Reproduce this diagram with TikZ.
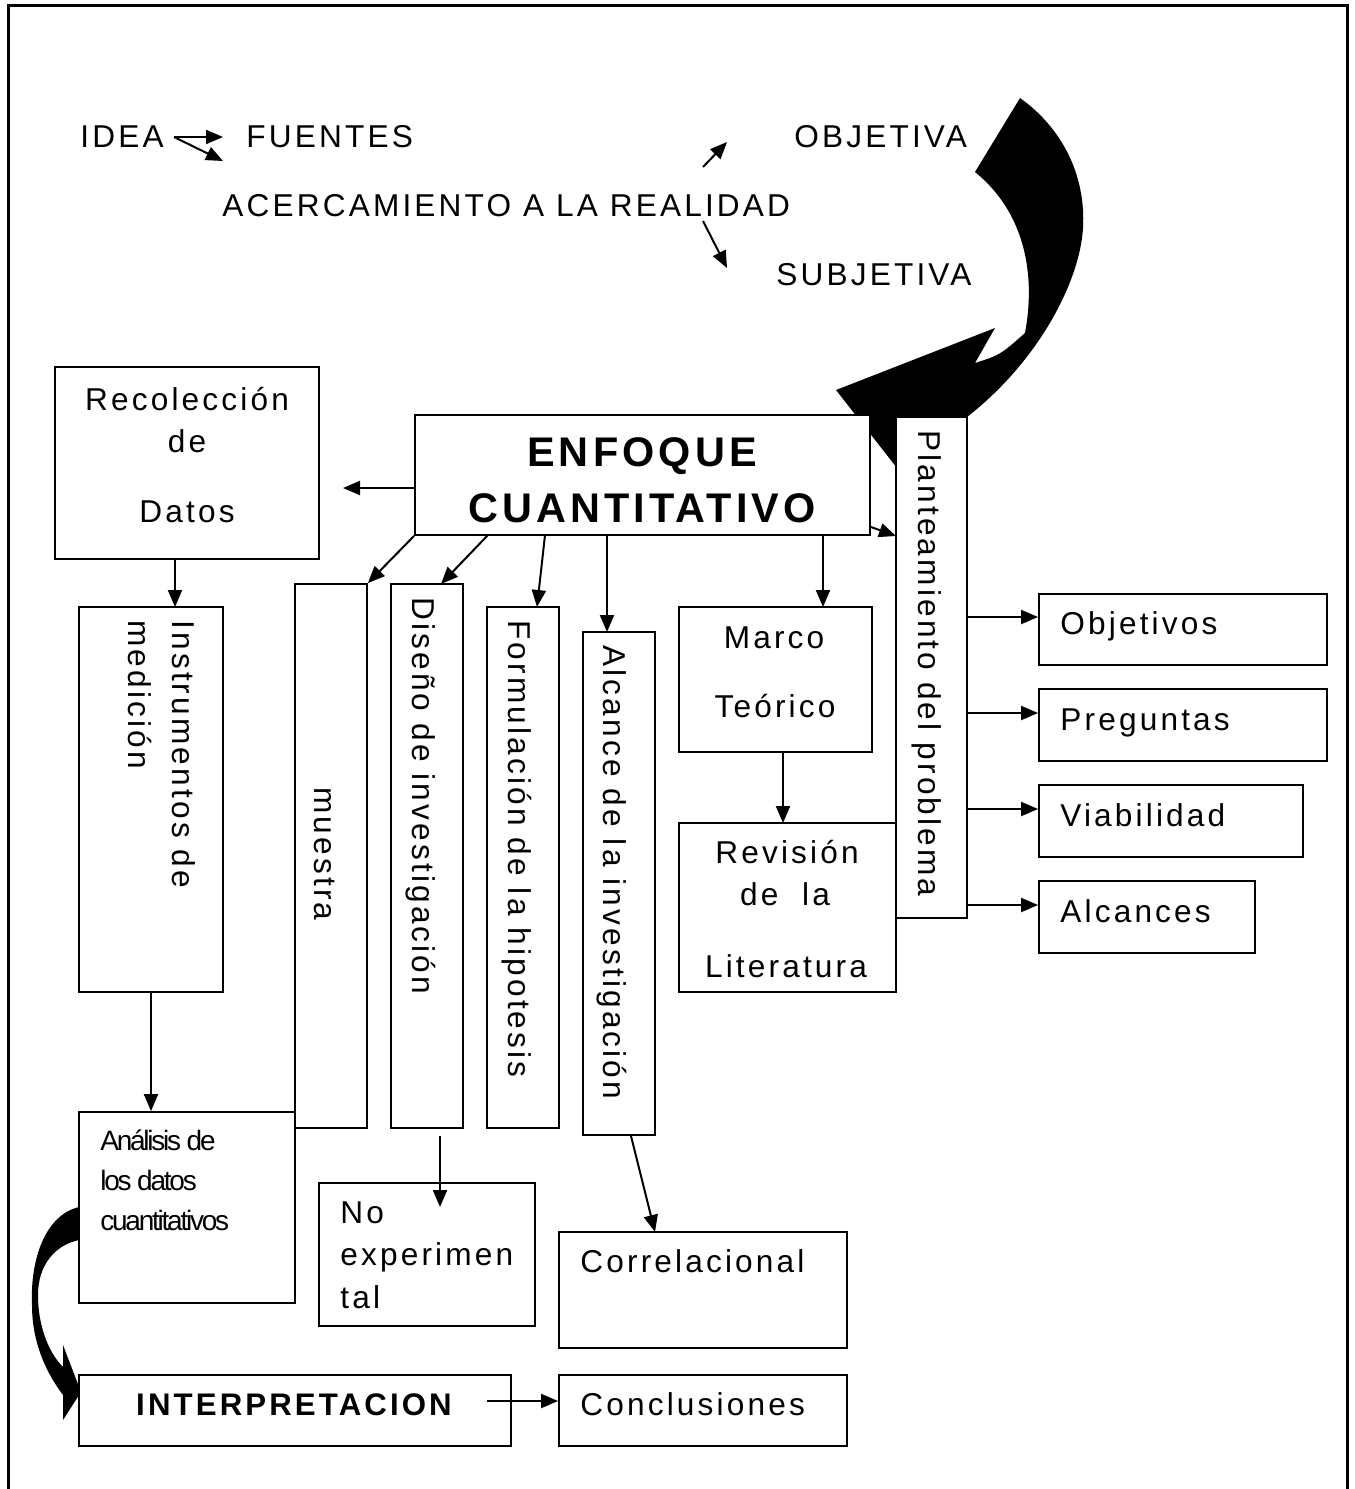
\documentclass[tikz,border=0pt]{standalone}
\usepackage{fontspec}
\setmainfont{Liberation Sans}
\newfontfamily\spf[LetterSpace=10]{Liberation Sans}
\newfontfamily\cnf[LetterSpace=-8]{Liberation Sans}
\usetikzlibrary{arrows.meta,fit,calc}
\begin{document}
\begin{tikzpicture}[x=0.5pt,y=-0.5pt,
  box/.style={draw, line width=0.9pt, fill=white, inner sep=0pt},
  lbl/.style={inner sep=0pt, font=\spf\fontsize{15.8}{19}\selectfont},
  lblb/.style={inner sep=0pt, font=\spf\bfseries\fontsize{15.6}{19}\selectfont},
  lblbig/.style={inner sep=0pt, font=\spf\bfseries\fontsize{20.7}{25}\selectfont},
  lblc/.style={inner sep=0pt, font=\cnf\fontsize{14}{16.8}\selectfont},
  arr/.style={-{Triangle[length=8.5pt,width=7pt]}, line width=1pt},
  vert/.style={rotate=-90, anchor=base west}
]
\useasboundingbox (0,0) rectangle (1355,1489);
% frame
\draw[line width=1.5pt] (8,1500) -- (8,5) -- (1347,5) -- (1347,1500);

% big curved arrow (behind boxes)
\fill[black] (1020,98) .. controls (1062,128) and (1086,175) .. (1083,228)
  .. controls (1080,280) and (1040,360) .. (967,417) -- (930,445) -- (897,468)
  -- (836,390) -- (995,328) -- (975,363) .. controls (1000,355) .. (1025,333)
  .. controls (1035,280) and (1028,215) .. (975,172) -- cycle;
% small curved arrow
\fill[black] (85,1207) -- (79,1207) .. controls (45,1215) and (30,1260) .. (32,1305)
  .. controls (32,1345) and (48,1375) .. (63,1395) -- (63,1420) -- (81,1392) -- (63,1345)
  -- (63,1367) .. controls (48,1352) and (38,1325) .. (38,1295)
  .. controls (38,1265) and (55,1245) .. (79,1240) -- (85,1240) -- cycle;

% top texts
\node[lbl, anchor=base west] (idea) at (80,147) {IDEA};
\node[lbl, anchor=base west] (fuen) at (246,147) {FUENTES};
\node[lbl, anchor=base west] (obje) at (794,147) {OBJETIVA};
\node[lbl, anchor=base west] (acer) at (222,216) {ACERCAMIENTO A LA REALIDAD};
\node[lbl, anchor=base west] (subj) at (776,285) {SUBJETIVA};
\coordinate (ideaout) at (174,137);
\coordinate (fuenin1) at (223,137);
\coordinate (fuenin2) at (223,161);
\coordinate (acerup) at (703,167);
\coordinate (objein) at (727,142);
\coordinate (acerdn) at (703,221);
\coordinate (subjin) at (727,268);
\draw[arr] (ideaout) -- (fuenin1);
\draw[arr] (ideaout) -- (fuenin2);
\draw[arr] (acerup) -- (objein);
\draw[arr] (acerdn) -- (subjin);

% boxes
\node[box, fit={(55,367) (319,559)}] (rec) {};
\node[box, fit={(79,607) (223,992)}] (ins) {};
\node[box, fit={(295,584) (367,1128)}] (mue) {};
\node[box, fit={(391,584) (463,1128)}] (dis) {};
\node[box, fit={(487,607) (559,1128)}] (for) {};
\node[box, fit={(583,632) (655,1135)}] (alc) {};
\node[box, fit={(679,607) (872,752)}] (mar) {};
\node[box, fit={(679,823) (896,992)}] (rev) {};
\node[box, fit={(415,415) (870,535)}] (enf) {};
\node[box, fit={(896,417) (967,918)}] (pla) {};
\node[box, fit={(1039,594) (1327,665)}] (obj) {};
\node[box, fit={(1039,689) (1327,761)}] (pre) {};
\node[box, fit={(1039,785) (1303,857)}] (via) {};
\node[box, fit={(1039,881) (1255,953)}] (alcs) {};
\node[box, fit={(79,1112) (295,1303)}] (ana) {};
\node[box, fit={(319,1183) (535,1326)}] (noe) {};
\node[box, fit={(559,1232) (847,1348)}] (cor) {};
\node[box, fit={(79,1375) (511,1446)}] (int) {};
\node[box, fit={(559,1375) (847,1446)}] (con) {};

% box texts
\node[lblbig, anchor=base] (enf1) at (642,466) {ENFOQUE};
\node[lblbig, anchor=base] (enf2) at (642,522) {CUANTITATIVO};
\node[lbl, anchor=base] (rec1) at (187,410) {Recolección};
\node[lbl, anchor=base] (rec2) at (187,452) {de};
\node[lbl, anchor=base] (rec3) at (187,522) {Datos};
\node[lbl, anchor=base] (mar1) at (774,648) {Marco};
\node[lbl, anchor=base] (mar2) at (775,717) {Teórico};
\node[lbl, anchor=base] (rev1) at (787,863) {Revisión};
\node[lbl, anchor=base] (rev2) at (785,905) {de\ \ la};
\node[lbl, anchor=base] (rev3) at (786,977) {Literatura};
\node[lbl, anchor=base west] (objt) at (1060,634) {Objetivos};
\node[lbl, anchor=base west] (pret) at (1060,730) {Preguntas};
\node[lbl, anchor=base west] (viat) at (1060,826) {Viabilidad};
\node[lbl, anchor=base west] (alct) at (1060,922) {Alcances};
\node[lbl, anchor=base west] (noe1) at (340,1223) {No};
\node[lbl, anchor=base west] (noe2) at (340,1265) {experimen};
\node[lbl, anchor=base west] (noe3) at (340,1308) {tal};
\node[lbl, anchor=base west] (cort) at (580,1272) {Correlacional};
\node[lbl, anchor=base west] (cont) at (580,1415) {Conclusiones};
\node[lblb, anchor=base] (intt) at (294,1415) {INTERPRETACION};
\node[lblc, anchor=base west] (ana1) at (100,1150) {Análisis de};
\node[lblc, anchor=base west] (ana2) at (100,1190) {los datos};
\node[lblc, anchor=base west] (ana3) at (100,1230) {cuantitativos};
% vertical texts
\node[lbl, vert] (ins1) at (172,620) {Instrumentos de};
\node[lbl, vert] (ins2) at (128,620) {medición};
\node[lbl, rotate=-90, anchor=base] (muet) at (314,854) {muestra};
\node[lbl, vert] (dist) at (412,597) {Diseño de investigación};
\node[lbl, vert] (fort) at (508,620) {Formulación de la hipotesis};
\node[lbl, vert] (alct2) at (603,645) {Alcance de la investigación};
\node[lbl, vert] (plat) at (918,430) {Planteamiento del problema};

% connectors
\coordinate (recin) at (343,488);
\draw[arr] (enf.west |- recin) -- (recin);
\draw[arr] (enf.south west) -- (mue.north east);
\coordinate (disin) at (441,584);
\draw[arr] (488,535) -- (disin);
\coordinate (forin) at (537,607);
\draw[arr] (545,535) -- (forin);
\coordinate (alcin) at (607,632);
\draw[arr] (enf.south -| alcin) -- (alcin);
\coordinate (marin) at (823,607);
\draw[arr] (enf.south -| marin) -- (marin);
\coordinate (plain) at (896,536);
\draw[arr] (871,527) -- (plain);
\coordinate (insin) at (175,607);
\draw[arr] (rec.south -| insin) -- (insin);
\draw[arr] (ins.south) -- (ins.south |- ana.north);
\coordinate (revin) at (783,823);
\draw[arr] (mar.south -| revin) -- (revin);
\foreach \b/\yy in {obj/617, pre/713, via/809, alcs/905}{
  \draw[arr] (pla.east |- {0,\yy}) -- (\b.west |- {0,\yy});
}
\coordinate (noein) at (440,1207);
\draw[arr] (440,1136) -- (noein);
\coordinate (corin) at (655,1232);
\draw[arr] (631,1136) -- (corin);
\coordinate (intout) at (487,1401);
\draw[arr] (intout) -- (con.west |- intout);
\end{tikzpicture}
\end{document}
